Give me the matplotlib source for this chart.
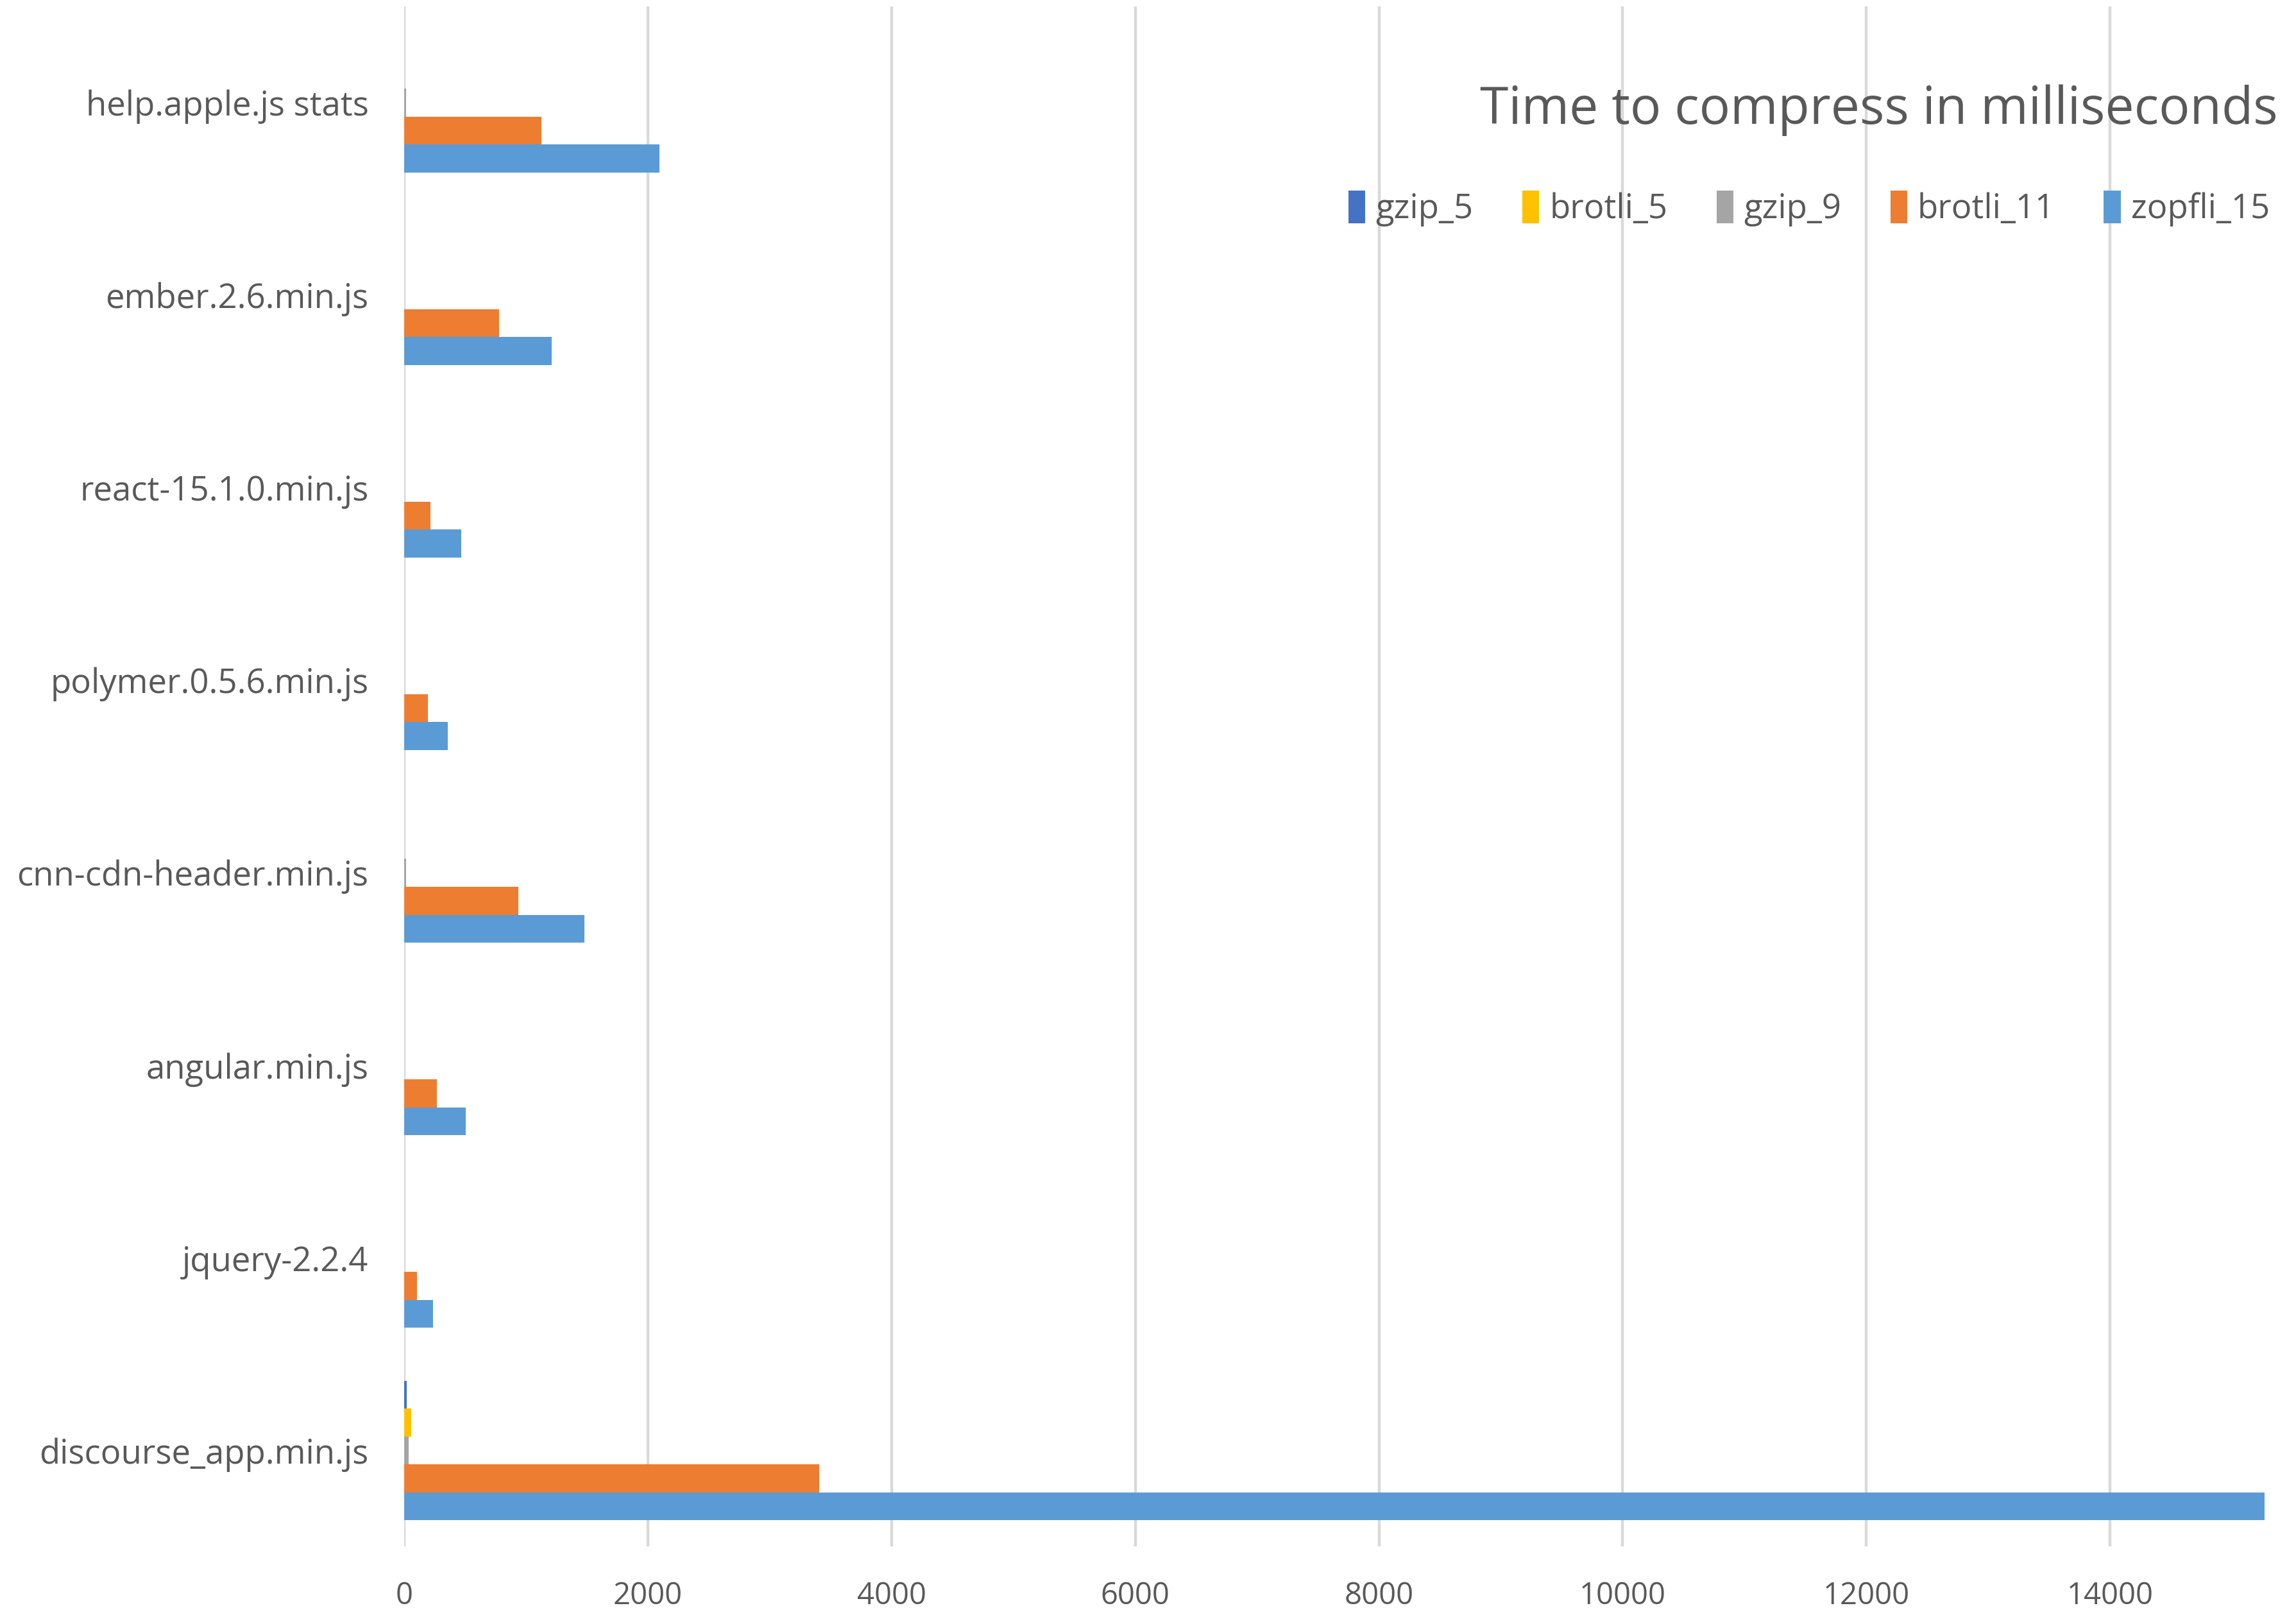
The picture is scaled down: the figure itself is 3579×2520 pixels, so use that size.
import matplotlib
matplotlib.use("Agg")
import matplotlib.pyplot as plt
from matplotlib.patches import Patch
import numpy as np

plt.rcParams['font.family'] = ['Open Sans', 'DejaVu Sans']

# data (ms), categories listed top to bottom
files = ["help.apple.js stats", "ember.2.6.min.js", "react-15.1.0.min.js",
         "polymer.0.5.6.min.js", "cnn-cdn-header.min.js", "angular.min.js",
         "jquery-2.2.4", "discourse_app.min.js"]
series = ["gzip_5", "brotli_5", "gzip_9", "brotli_11", "zopfli_15"]
gzip_5 = [0, 0, 0, 0, 0, 0, 0, 21]
brotli_5 = [0, 0, 0, 0, 0, 0, 0, 58]
gzip_9 = [18, 0, 0, 0, 18, 0, 0, 37]
brotli_11 = [1125, 780, 215, 195, 935, 268, 106, 3405]
zopfli_15 = [2095, 1212, 468, 358, 1478, 504, 234, 15270]
colors = ["#4472C4", "#FFC000", "#A5A5A5", "#ED7D31", "#5B9BD5"]

text_col = "#595959"
grid_col = "#D9D9D9"

fig = plt.figure(figsize=(35.8, 25.2), dpi=100)
ax = fig.add_axes([0.176, 0.0435, 0.8112, 0.9525])

y = np.arange(len(files))
h = 0.145
values = [gzip_5, brotli_5, gzip_9, brotli_11, zopfli_15]
for k, (name, vals, c) in enumerate(zip(series, values, colors)):
    ax.barh(y + (k - 2) * h, vals, height=h, color=c, linewidth=0, label=name, zorder=3)

ax.set_ylim(len(files) - 0.5, -0.5)
ax.set_xlim(0, 15290)
ax.set_xticks(np.arange(0, 14001, 2000))
ax.set_yticks(y)
ax.set_yticklabels(files)

ax.grid(axis='x', color=grid_col, linewidth=3.2, zorder=0)
for s in ax.spines.values():
    s.set_visible(False)
ax.tick_params(axis='both', length=0, colors=text_col)
ax.tick_params(axis='x', labelsize=34, pad=38)
ax.tick_params(axis='y', labelsize=38, pad=40)

fig.text(0.9917, 0.932, "Time to compress in milliseconds", ha='right', va='center',
         fontsize=58, color=text_col)

handles = [Patch(facecolor=c, edgecolor='none') for c in colors]
leg = fig.legend(handles, series, loc='center right', bbox_to_anchor=(1.0015, 0.871),
                 ncol=5, frameon=False, fontsize=38, handlelength=0.5, handleheight=1.1,
                 handletextpad=0.3, columnspacing=1.45)
for t in leg.get_texts():
    t.set_color(text_col)

fig.savefig("out.png", dpi=100, facecolor='white')
